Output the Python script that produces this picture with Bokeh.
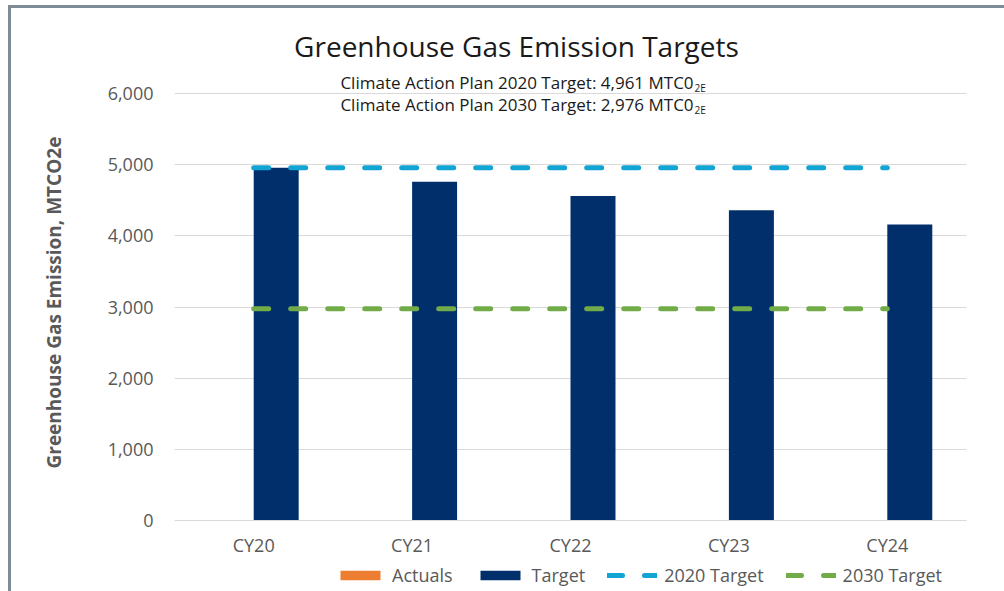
from bokeh.plotting import figure
from bokeh.layouts import column
from bokeh.models import (FactorRange, ColumnDataSource, Legend, LegendItem, Label,
                          NumeralTickFormatter, FixedTicker)
from bokeh.transform import dodge
from bokeh.embed import file_html
from bokeh.resources import INLINE

categories = ["CY20", "CY21", "CY22", "CY23", "CY24"]
actuals = [0, 0, 0, 0, 0]
target = [4961, 4762, 4562, 4363, 4163]
target_2020 = [4961, 4961, 4961, 4961, 4961]
target_2030 = [2976, 2976, 2976, 2976, 2976]
y_ticks = [0, 1000, 2000, 3000, 4000, 5000, 6000]
series_names = ["Actuals", "Target", "2020 Target", "2030 Target"]

title_text = "Greenhouse Gas Emission Targets"
sub1_text = "Climate Action Plan 2020 Target: 4,961 MTC0"
sub2_text = "Climate Action Plan 2030 Target: 2,976 MTC0"
sub_script = "2E"
y_label = "Greenhouse Gas Emission, MTCO2e"

FONT = "Open Sans"
GREY = "#595959"
C_ACT, C_TAR, C_20, C_30 = "#ED7D31", "#002F6C", "#12A5D3", "#72AC48"

src = ColumnDataSource(dict(cat=categories, actuals=actuals, target=target,
                            t2020=target_2020, t2030=target_2030))


def draw_series(fig):
    ra = fig.vbar(x=dodge("cat", -0.142, range=fig.x_range), top="actuals", width=0.284,
                  source=src, fill_color=C_ACT, line_color=None)
    rt = fig.vbar(x=dodge("cat", 0.142, range=fig.x_range), top="target", width=0.284,
                  source=src, fill_color=C_TAR, line_color=None)
    r20 = fig.line(x="cat", y="t2020", source=src, line_color=C_20, line_width=5,
                   line_dash="15 22", line_cap="round")
    r30 = fig.line(x="cat", y="t2030", source=src, line_color=C_30, line_width=5,
                   line_dash="15 22", line_cap="round")
    return [ra, rt, r20, r30]


W = 993
p = figure(width=W, height=551, x_range=FactorRange(*categories), y_range=(0, 7100),
           output_backend="svg", toolbar_location=None,
           min_border_left=163, min_border_right=38,
           min_border_top=7, min_border_bottom=39)
p.x_range.range_padding = 0
p.outline_line_color = None
p.background_fill_color = "white"
p.border_fill_color = "white"
draw_series(p)

# axes
p.yaxis.ticker = FixedTicker(ticks=y_ticks)
p.yaxis.formatter = NumeralTickFormatter(format="0,0")
p.yaxis.axis_line_color = None
p.yaxis.major_tick_line_color = None
p.yaxis.minor_tick_line_color = None
p.yaxis.major_label_text_font = FONT
p.yaxis.major_label_text_font_size = "18px"
p.yaxis.major_label_text_color = GREY
p.yaxis.major_label_standoff = 15
# trailing no-break spaces shift the label's centre down to the 0..6000 span
p.yaxis.axis_label = y_label + "\u00a0" * 14
p.yaxis.axis_label_text_font = FONT
p.yaxis.axis_label_text_font_style = "bold"
p.yaxis.axis_label_text_font_size = "19px"
p.yaxis.axis_label_text_color = GREY
p.yaxis.axis_label_standoff = 38

p.xaxis.axis_line_color = "#d9d9d9"
p.xaxis.major_tick_line_color = None
p.xaxis.minor_tick_line_color = None
p.xaxis.major_label_text_font = FONT
p.xaxis.major_label_text_font_size = "18px"
p.xaxis.major_label_text_color = GREY
p.xaxis.major_label_standoff = 6

p.xgrid.grid_line_color = None
p.ygrid.grid_line_color = "#d9d9d9"
p.ygrid.grid_line_width = 1

# titles
p.add_layout(Label(x=2.159, y=6665, text=title_text, text_font=FONT,
                   text_font_size="28px", text_color="#1a1a1a", text_align="center",
                   text_baseline="middle"))
sx = 3.277
for txt, yy in ((sub1_text, 6157), (sub2_text, 5848)):
    p.add_layout(Label(x=sx, y=yy, text=txt, text_font=FONT, text_font_size="17px",
                       text_color="#1a1a1a", text_align="right", text_baseline="middle"))
    p.add_layout(Label(x=sx, y=yy, x_offset=1, y_offset=-5, text=sub_script,
                       text_font=FONT, text_font_size="10px", text_color="#1a1a1a",
                       text_align="left", text_baseline="middle"))

# legend strip: its own small figure (same series, drawn outside its view range)
# so that the legend is not clipped by the main plot frame
leg = figure(width=W, height=32, x_range=FactorRange(*categories), y_range=(8000, 9000),
             output_backend="svg", toolbar_location=None,
             x_axis_location=None, y_axis_location=None,
             min_border_left=163, min_border_right=38, min_border_top=0, min_border_bottom=0)
leg.grid.visible = False
leg.outline_line_color = None
leg.border_fill_color = "white"
leg_renderers = draw_series(leg)

legend = Legend(items=[LegendItem(label=n, renderers=[r])
                       for n, r in zip(series_names, leg_renderers)],
                orientation="horizontal", location=(161, 4),
                glyph_width=50, glyph_height=12, label_standoff=7, spacing=22,
                padding=0, margin=0, label_height=20,
                label_text_font=FONT, label_text_font_size="18px",
                label_text_color=GREY, border_line_color=None,
                background_fill_alpha=0)
leg.add_layout(legend, "center")

layout = column(p, leg, spacing=0,
                styles={"border-top": "3px solid #7f8c96", "border-left": "3px solid #7f8c96",
                        "margin-left": "8px", "margin-top": "5px"})

open("out.html", "w").write(file_html(layout, INLINE))
